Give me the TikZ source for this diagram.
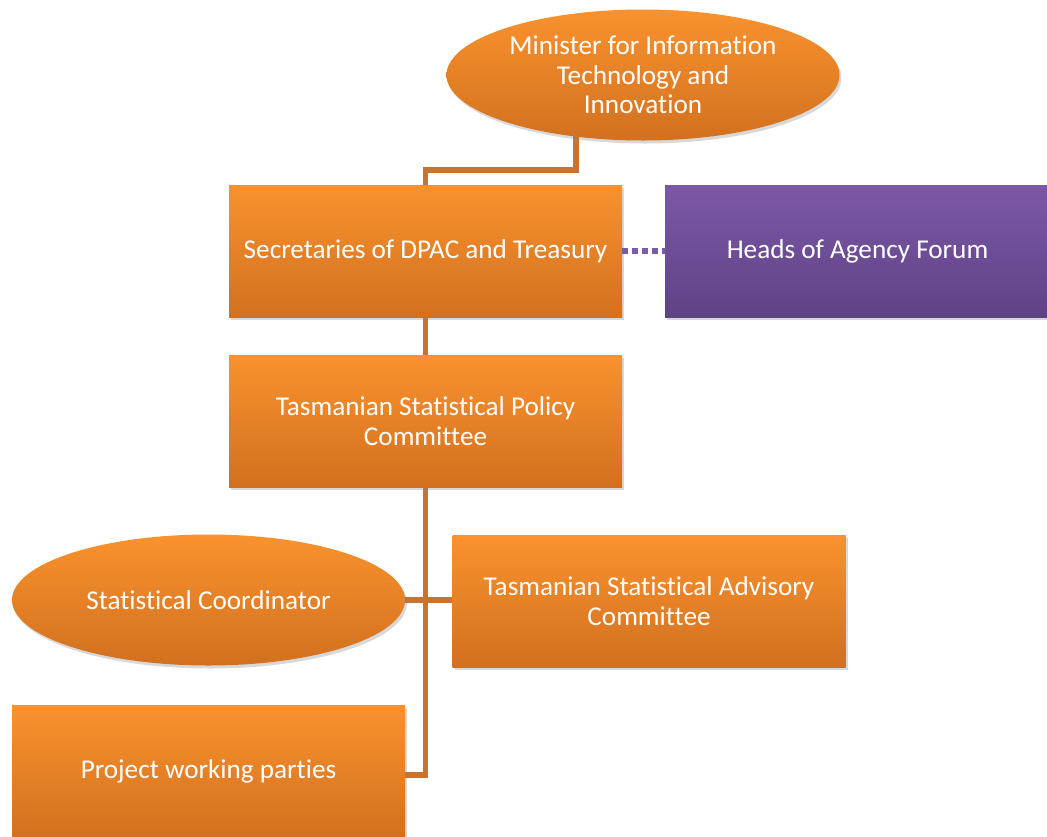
\documentclass[tikz,border=0pt]{standalone}
\usepackage{fontspec}
\setmainfont{Carlito}[Ligatures=NoCommon]
\usetikzlibrary{shapes.geometric,shadows,backgrounds}
\definecolor{otop}{HTML}{F9922E}
\definecolor{obot}{HTML}{D2701F}
\definecolor{ptop}{HTML}{7D58A8}
\definecolor{pbot}{HTML}{5E4385}
\definecolor{conn}{HTML}{C8742F}
\definecolor{dashc}{HTML}{7A5BA5}
\tikzset{
  base/.style={text=white, align=center, inner sep=0pt, draw=none,
    font=\fontsize{27.2}{29.5}\selectfont,
    drop shadow={shadow xshift=2pt, shadow yshift=-3pt, opacity=0.3}},
  obox/.style={base, rectangle, top color=otop, bottom color=obot,
    minimum width=393pt, minimum height=132pt},
  oell/.style={base, ellipse, top color=otop, bottom color=obot,
    minimum width=393pt, minimum height=131pt},
  pbox/.style={base, rectangle, top color=ptop, bottom color=pbot,
    minimum width=385pt, minimum height=132pt},
  link/.style={draw=conn, line width=5.5pt},
  dlink/.style={draw=dashc, line width=6pt, dash pattern=on 6pt off 4pt}
}
\begin{document}
\begin{tikzpicture}[x=1pt,y=-1pt]
\useasboundingbox (0,0) rectangle (1047,836);
\node[oell] (min) at (643,75) {Minister for Information\\Technology and\\Innovation};
\node[obox] (sec) at (425.5,251) {Secretaries of DPAC and Treasury};
\node[pbox] (heads) at (857.5,251) {Heads of Agency Forum};
\node[obox] (tspc) at (425.5,421) {Tasmanian Statistical Policy\\Committee};
\node[oell] (coord) at (208.5,600) {Statistical Coordinator};
\node[obox] (tsac) at (649,601) {Tasmanian Statistical Advisory\\Committee};
\node[obox] (proj) at (208.5,771) {Project working parties};
\begin{scope}[on background layer]
\fill[white] (0,0) rectangle (1047,836);
\draw[link] ([xshift=-67pt]min.center) |- ([yshift=15pt]sec.north) -- (sec.north);
\draw[link] (sec.south) -- (tspc.north);
\draw[link] (tspc.south) |- ([yshift=-4pt]proj.east);
\draw[link] (coord.east) -- (coord.east -| tsac.west);
\end{scope}
\draw[dlink] (sec.east) -- (heads.west);
\end{tikzpicture}
\end{document}
